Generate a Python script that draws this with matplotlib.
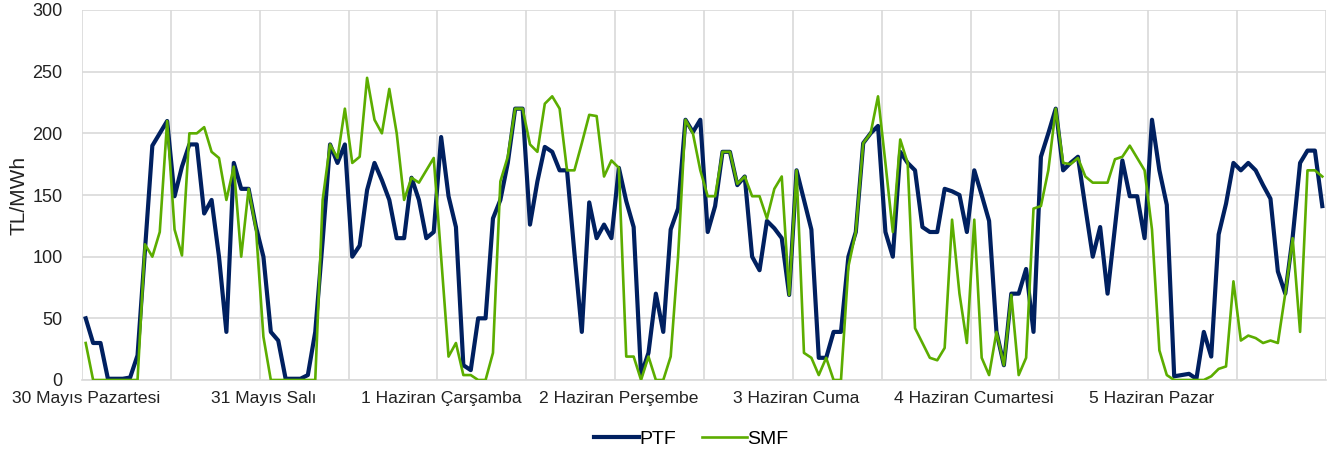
import numpy as np
import matplotlib
matplotlib.use("Agg")
import matplotlib.pyplot as plt

# günler (etiketler her 24 saatte bir)
day_labels = ["30 Mayıs Pazartesi", "31 Mayıs Salı", "1 Haziran Çarşamba",
              "2 Haziran Perşembe", "3 Haziran Cuma", "4 Haziran Cumartesi",
              "5 Haziran Pazar"]

# saatlik PTF (TL/MWh)
ptf = [50, 30, 30, 1, 1, 1, 2, 20, 105, 190, 200, 210,
       149, 173, 191, 191, 135, 146, 100, 39, 176, 155, 155, 124,
       100, 39, 32, 1, 1, 1, 4, 39, 113, 191, 176, 191,
       100, 109, 154, 176, 162, 146, 115, 115, 164, 146, 115, 120,
       197, 149, 124, 12, 8, 50, 50, 131, 146, 176, 220, 220,
       126, 161, 189, 185, 170, 170, 103, 39, 144, 115, 126, 115,
       172, 145, 124, 4, 22, 70, 39, 122, 139, 211, 201, 211,
       120, 141, 185, 185, 158, 165, 100, 89, 129, 123, 115, 69,
       170, 146, 122, 18, 18, 39, 39, 100, 120, 192, 200, 206,
       120, 100, 185, 176, 170, 124, 120, 120, 155, 153, 150, 120,
       170, 150, 129, 39, 12, 70, 70, 90, 39, 181, 200, 220,
       170, 176, 181, 140, 100, 124, 70, 124, 178, 149, 149, 115,
       211, 170, 142, 3, 4, 5, 1, 39, 19, 118, 143, 176,
       170, 176, 170, 158, 147, 88, 70, 116, 176, 186, 186, 141]

# saatlik SMF (TL/MWh)
smf = [30, 0, 0, 0, 0, 0, 0, 0, 110, 100, 120, 210,
       122, 101, 200, 200, 205, 185, 180, 146, 173, 100, 155, 122,
       35, 0, 0, 0, 0, 0, 0, 0, 146, 191, 180, 220,
       176, 181, 245, 211, 200, 236, 200, 146, 164, 160, 170, 180,
       100, 19, 30, 4, 4, 0, 0, 22, 161, 181, 220, 220,
       191, 185, 224, 230, 220, 170, 170, 192, 215, 214, 165, 178,
       172, 19, 19, 0, 19, 0, 0, 19, 100, 211, 200, 170,
       149, 149, 185, 185, 159, 165, 149, 149, 131, 155, 165, 69,
       170, 22, 18, 4, 18, 0, 0, 92, 120, 192, 200, 230,
       176, 120, 195, 176, 42, 30, 18, 16, 26, 130, 70, 30,
       130, 18, 4, 39, 12, 69, 4, 18, 139, 141, 170, 220,
       176, 175, 180, 165, 160, 160, 160, 179, 181, 190, 180, 170,
       122, 24, 4, 0, 0, 0, 0, 0, 3, 9, 11, 80,
       32, 36, 34, 30, 32, 30, 70, 115, 39, 170, 170, 165]

plt.rcParams['font.family'] = ['Liberation Sans', 'DejaVu Sans']

hours = np.arange(len(ptf))
grid_c = '#d9d9d9'

fig = plt.figure(figsize=(13.27, 4.54), dpi=100)
ax = fig.add_axes([82 / 1327, 1 - 380 / 454, 1244 / 1327, 370 / 454])

ax.plot(hours, ptf, color='#002060', lw=3.0, label='PTF', zorder=3)
ax.plot(hours, smf, color='#5CAD00', lw=1.9, label='SMF', zorder=4)

ax.set_xlim(-0.5, len(ptf) - 0.5)
ax.set_ylim(0, 300)
ax.set_yticks(np.arange(0, 301, 50))
ax.set_xticks(np.arange(0, len(ptf), 24))
ax.set_xticklabels(day_labels)
ax.set_xticks(np.arange(-0.5, len(ptf), 12), minor=True)

ax.grid(axis='y', color=grid_c, lw=1.2)
ax.grid(axis='x', which='minor', color=grid_c, lw=1.2)
ax.grid(axis='x', which='major', visible=False)
ax.set_axisbelow(True)

for s in ax.spines.values():
    s.set_visible(False)
ax.spines['bottom'].set_visible(True)
ax.spines['bottom'].set_color(grid_c)
ax.spines['bottom'].set_linewidth(1.2)

ax.tick_params(axis='both', which='both', length=0, colors='#222222')
ax.tick_params(axis='y', pad=14, labelsize=13)
ax.tick_params(axis='x', pad=8, labelsize=12.6)
ax.set_ylabel('TL/MWh', fontsize=15, color='#222222', labelpad=3)

fig.legend(loc='lower center', bbox_to_anchor=(0.521, -0.025), ncol=2, frameon=False,
           fontsize=14, handlelength=2.3, handletextpad=0.05, columnspacing=1.3)

fig.savefig('out.png', dpi=100)
